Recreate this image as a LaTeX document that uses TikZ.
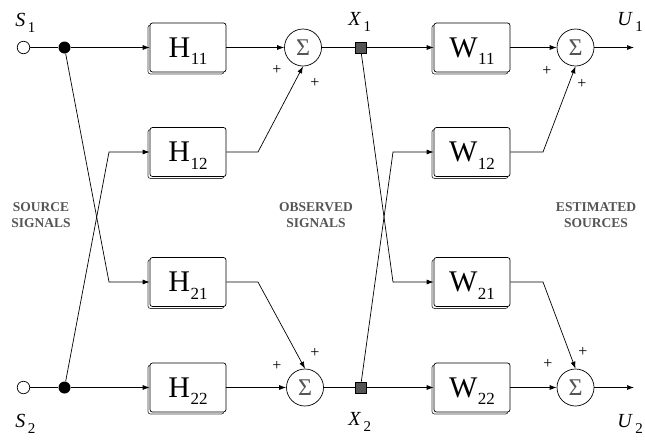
\documentclass[tikz,border=0pt]{standalone}
\usepackage{fontspec}
\setmainfont{Liberation Serif}
\usetikzlibrary{arrows.meta,shadows}
\definecolor{lblgray}{HTML}{555555}
\newcommand{\blab}[2]{#1\kern0.5pt\smash{\raisebox{-7.5pt}{\fontsize{17}{17}\selectfont #2}}}
\newcommand{\vlab}[2]{\textit{#1}\kern2.5pt\raisebox{-6.5pt}{\fontsize{15}{15}\selectfont #2}}
\begin{document}
\begin{tikzpicture}[x=1pt,y=-1pt,line width=0.7pt,
 blk/.style={draw, rounded corners=2.5pt, minimum width=76pt, minimum height=49pt, fill=white, inner sep=0pt,
   copy shadow={shadow xshift=-2pt, shadow yshift=-2pt, draw=black!75, fill=white},
   font=\fontsize{30}{30}\selectfont},
 sumnode/.style={draw, circle, minimum size=37pt, inner sep=0pt, fill=white, font=\fontsize{24}{24}\selectfont, text=lblgray},
 opn/.style={draw, circle, minimum size=12.5pt, inner sep=0pt, fill=white},
 dotn/.style={circle, fill=black, minimum size=12pt, inner sep=0pt},
 sq/.style={draw, fill=lblgray, minimum size=11pt, inner sep=0pt},
 arr/.style={-{Latex[length=7pt,width=5pt]}},
 lbl/.style={anchor=base west, font=\fontsize{20}{20}\selectfont, inner sep=0pt},
 pl/.style={font=\fontsize{16}{16}\selectfont, inner sep=0pt},
 captxt/.style={font=\bfseries\fontsize{13.5}{16}\selectfont, text=lblgray, align=center, inner sep=0pt}]
\useasboundingbox (0,0) rectangle (645,440);

% inputs
\node[opn] (o1) at (23.5,47.5) {};
\node[opn] (o2) at (23.5,387.5) {};
\node[dotn] (d1) at (64.5,47.5) {};
\node[dotn] (d2) at (64.5,387.5) {};

% mixing blocks
\node[blk] (h11) at (188,47.5) {\blab{H}{11}};
\node[blk] (h12) at (188,152) {\blab{H}{12}};
\node[blk] (h21) at (188,282) {\blab{H}{21}};
\node[blk] (h22) at (188,387.5) {\blab{H}{22}};

% sums
\node[sumnode] (s1) at (303,47.5) {Σ};
\node[sumnode] (s2) at (305,387.5) {Σ};
\node[sumnode] (s3) at (575.5,47.5) {Σ};
\node[sumnode] (s4) at (575.5,387.5) {Σ};

% observed
\node[sq] (x1) at (360.5,47.5) {};
\node[sq] (x2) at (360.5,387.5) {};

% separating blocks
\node[blk] (w11) at (472,47.5) {\blab{W}{11}};
\node[blk] (w12) at (472,152) {\blab{W}{12}};
\node[blk] (w21) at (472,282) {\blab{W}{21}};
\node[blk] (w22) at (472,387.5) {\blab{W}{22}};

% bend points
\coordinate (b1) at (109,282);
\coordinate (b2) at (109,152);
\coordinate (c12) at (258,152);
\coordinate (c21) at (258,282);
\coordinate (b3) at (393,282);
\coordinate (b4) at (393,152);
\coordinate (e12) at (543,152);
\coordinate (e21) at (543,282);
\coordinate (u1e) at (634,47.5);
\coordinate (u2e) at (634,387.5);

% connectors, first stage
\draw (o1) -- (d1);
\draw (o2) -- (d2);
\draw[arr] (d1) -- (h11);
\draw[arr] (d2) -- (h22);
\draw[arr] (d1) -- (b1) -- (h21);
\draw[arr] (d2) -- (b2) -- (h12);
\draw[arr] (h11) -- (s1);
\draw[arr] (h22) -- (s2);
\draw[arr] (h12) -- (c12) -- (s1.south);
\draw[arr] (h21) -- (c21) -- (s2.north);

% second stage
\draw (s1) -- (x1);
\draw (s2) -- (x2);
\draw[arr] (x1) -- (w11);
\draw[arr] (x2) -- (w22);
\draw[arr] (x1) -- (b3) -- (w21);
\draw[arr] (x2) -- (b4) -- (w12);
\draw[arr] (w11) -- (s3);
\draw[arr] (w22) -- (s4);
\draw[arr] (w12) -- (e12) -- (s3.south);
\draw[arr] (w21) -- (e21) -- (s4.north);
\draw[arr] (s3) -- (u1e);
\draw[arr] (s4) -- (u2e);

% plus signs
\node[pl] (p1) at (277,70) {+};
\node[pl] (p2) at (315,83) {+};
\node[pl] (p3) at (547,71) {+};
\node[pl] (p4) at (582,84) {+};
\node[pl] (p5) at (277,366) {+};
\node[pl] (p6) at (315,353) {+};
\node[pl] (p7) at (548,364) {+};
\node[pl] (p8) at (583,352) {+};

% signal labels
\node[lbl] (ls1) at (15,26) {\vlab{S}{1}};
\node[lbl] (lx1) at (348,25) {\vlab{X}{1}};
\node[lbl] (lu1) at (617,25) {\vlab{U}{1}};
\node[lbl] (ls2) at (15,427) {\vlab{S}{2}};
\node[lbl] (lx2) at (348,425) {\vlab{X}{2}};
\node[lbl] (lu2) at (617,427) {\vlab{U}{2}};

% captions
\node[captxt] (cs) at (41,215) {SOURCE\\SIGNALS};
\node[captxt] (co) at (316,215) {OBSERVED\\SIGNALS};
\node[captxt] (ce) at (596,215) {ESTIMATED\\SOURCES};
\end{tikzpicture}
\end{document}
